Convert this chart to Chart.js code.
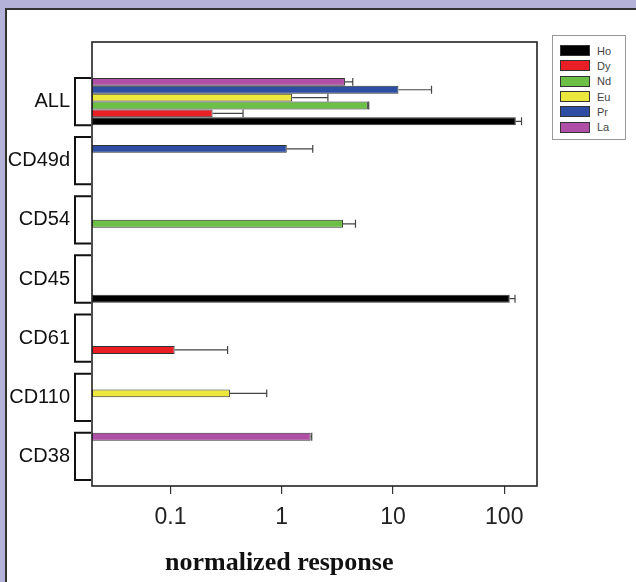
<!DOCTYPE html>
<html>
<head>
<meta charset="utf-8">
<script src="https://cdn.jsdelivr.net/npm/chart.js@4.4.1/dist/chart.umd.min.js"></script>
<style>
  html, body { margin: 0; padding: 0; }
  body { width: 636px; height: 582px; overflow: hidden; background: #b4b2d9; position: relative; font-family: "Liberation Sans", Arial, sans-serif; }
  #panel { position: absolute; left: 5px; top: 8px; width: 660px; height: 620px; background: #fff; border-left: 2px solid #333; border-top: 2px solid #333; }
  #chart { position: absolute; left: 0; top: 0; }
  #legend { position: absolute; left: 552px; top: 35px; width: 74px; height: 105px; border: 1px solid #999; background: #fff; box-sizing: border-box; padding-top: 7px; }
  .row { height: 15.3px; display: flex; align-items: center; }
  .sw { width: 28px; height: 9px; border: 1px solid #333; margin-left: 7px; margin-right: 7px; }
  .lbl { font-size: 11px; color: #444; }
  #xtitle { position: absolute; left: 165px; top: 549px; font: bold 26px "Liberation Serif", "Times New Roman", serif; line-height: 26px; white-space: nowrap; color: #111; }
</style>
</head>
<body>
<div id="panel"></div>
<canvas id="chart" width="636" height="582"></canvas>
<div id="legend"></div>
<div id="xtitle">normalized response</div>
<script>
// categories, top to bottom
const categories = ['ALL', 'CD49d', 'CD54', 'CD45', 'CD61', 'CD110', 'CD38'];
const xTickValues = [0.1, 1, 10, 100];

// series, in the order they sit inside a group (top to bottom)
const seriesNames = ['La', 'Pr', 'Eu', 'Nd', 'Dy', 'Ho'];
const seriesColors = ['#b04fa6', '#2d4ea2', '#ece73c', '#6dc046', '#ea1f26', '#000000'];

const laValues = [3.7, null, null, null, null, null, 1.82];
const laErrors = [4.35, null, null, null, null, null, 1.86];
const prValues = [11.2, 1.11, null, null, null, null, null];
const prErrors = [22.2, 1.9, null, null, null, null, null];
const euValues = [1.24, null, null, null, null, 0.342, null];
const euErrors = [2.6, null, null, null, null, 0.733, null];
const ndValues = [5.95, null, 3.55, null, null, null, null];
const ndErrors = [6.05, null, 4.6, null, null, null, null];
const dyValues = [0.239, null, null, null, 0.109, null, null];
const dyErrors = [0.449, null, null, null, 0.326, null, null];
const hoValues = [127, null, null, 112, null, null, null];
const hoErrors = [143, null, null, 125, null, null, null];

const seriesValues = [laValues, prValues, euValues, ndValues, dyValues, hoValues];
const seriesErrors = [laErrors, prErrors, euErrors, ndErrors, dyErrors, hoErrors];

const datasets = seriesNames.map((name, i) => ({
  label: name,
  data: seriesValues[i],
  errors: seriesErrors[i],
  backgroundColor: seriesColors[i],
  borderColor: '#333',
  borderWidth: 1,
  borderSkipped: false,
  categoryPercentage: 0.8,
  barPercentage: 1.0,
}));

// error whiskers (upper side only)
const errorBars = {
  id: 'errorBars',
  afterDatasetsDraw(chart) {
    const { ctx } = chart;
    const xScale = chart.scales.x;
    ctx.save();
    ctx.strokeStyle = '#444';
    ctx.lineWidth = 1.2;
    chart.data.datasets.forEach((ds, di) => {
      const meta = chart.getDatasetMeta(di);
      meta.data.forEach((bar, i) => {
        const hi = ds.errors[i];
        if (ds.data[i] == null || hi == null) return;
        const x2 = xScale.getPixelForValue(hi);
        const half = bar.height / 2;
        ctx.beginPath();
        ctx.moveTo(bar.x, bar.y);
        ctx.lineTo(x2, bar.y);
        ctx.moveTo(x2, bar.y - half);
        ctx.lineTo(x2, bar.y + half);
        ctx.stroke();
      });
    });
    ctx.restore();
  },
};

// plot frame and group brackets
const frame = {
  id: 'frame',
  afterDraw(chart) {
    const { ctx, chartArea } = chart;
    const yScale = chart.scales.y;
    ctx.save();
    ctx.strokeStyle = '#222';
    ctx.lineWidth = 1.6;
    ctx.strokeRect(chartArea.left, chartArea.top - 30, chartArea.right - chartArea.left, chartArea.bottom - chartArea.top + 30);

    const step = (chartArea.bottom - chartArea.top) / categories.length;
    const half = step * 0.8 / 2;
    ctx.strokeStyle = '#111';
    ctx.lineWidth = 2;
    categories.forEach((c, i) => {
      const cy = yScale.getPixelForTick(i);
      const xl = chartArea.left - 17;
      ctx.beginPath();
      ctx.moveTo(chartArea.left - 1, cy - half);
      ctx.lineTo(xl, cy - half);
      ctx.lineTo(xl, cy + half);
      ctx.lineTo(chartArea.left - 1, cy + half);
      ctx.stroke();
    });
    ctx.restore();
  },
};

new Chart(document.getElementById('chart'), {
  type: 'bar',
  data: { labels: categories, datasets },
  options: {
    indexAxis: 'y',
    responsive: false,
    animation: false,
    layout: { padding: { left: 0, right: 99, top: 72, bottom: 0 } },
    plugins: { legend: { display: false }, tooltip: { enabled: false } },
    scales: {
      x: {
        type: 'logarithmic',
        min: 0.0197,
        max: 197,
        afterBuildTicks(scale) {
          scale.ticks = xTickValues.map((v) => ({ value: v }));
        },
        afterFit(scale) {
          scale.height = 96;
        },
        border: { display: false },
        grid: { drawOnChartArea: false, drawTicks: true, tickLength: 8, color: '#333', lineWidth: 1.2 },
        ticks: {
          padding: 10,
          color: '#222',
          font: { family: '"Liberation Sans", Arial, sans-serif', size: 23 },
          callback: (v) => String(v),
        },
      },
      y: {
        afterFit(scale) {
          scale.width = 92;
        },
        border: { display: false },
        grid: { display: false, drawTicks: false },
        ticks: {
          padding: 22,
          color: '#111',
          font: { family: '"Liberation Sans", Arial, sans-serif', size: 20 },
        },
      },
    },
  },
  plugins: [errorBars, frame],
});

// legend: Ho at top, La at bottom
const legend = document.getElementById('legend');
seriesNames.slice().reverse().forEach((name) => {
  const i = seriesNames.indexOf(name);
  const row = document.createElement('div');
  row.className = 'row';
  row.innerHTML = '<span class="sw" style="background:' + seriesColors[i] + '"></span><span class="lbl">' + name + '</span>';
  legend.appendChild(row);
});
</script>
</body>
</html>
